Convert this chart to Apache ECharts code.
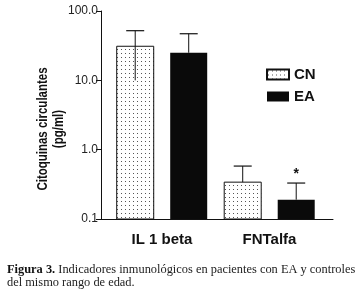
<!DOCTYPE html>
<html>
<head>
<meta charset="utf-8">
<script src="https://cdn.jsdelivr.net/npm/echarts@6.0.0/dist/echarts.min.js"></script>
<style>
html, body { margin: 0; padding: 0; background: #fff; }
#main { width: 361px; height: 296px; }
</style>
</head>
<body>
<div id="main"></div>
<script>
// datos
var categories = ['IL 1 beta', 'FNTalfa'];
var catPos = [1, 2];
var cnMean = [31, 0.34];
var cnHigh = [52, 0.58];
var cnLow = [10, 0.34];
var eaMean = [25, 0.19];
var eaHigh = [47, 0.33];
var eaLow = [25, 0.19];
var eaSig = ['', '*'];
var yMin = 0.1, yMax = 100;

var sans = "'Liberation Sans', Arial, sans-serif";
var barW = 37;
var barGap = 16.5;
var half = (barW + barGap) / 2; // distancia del centro del grupo al centro de cada barra

// patron punteado para CN
var pat = document.createElement('canvas');
pat.width = 4;
pat.height = 4;
var pctx = pat.getContext('2d');
pctx.fillStyle = '#fff';
pctx.fillRect(0, 0, 4, 4);
pctx.fillStyle = '#555';
pctx.fillRect(1, 1, 1, 1);
var cnFill = { image: pat, repeat: 'repeat' };

var myChart = echarts.init(document.getElementById('main'));

// barras desde el minimo del eje log
function barRender(side, fill, stroke) {
    return function(params, api) {
        var p0 = api.coord([api.value(0), yMin]);
        var p1 = api.coord([api.value(0), api.value(1)]);
        var x = p0[0] + side * half - barW / 2;
        return {
            type: 'rect',
            shape: { x: x, y: p1[1], width: barW, height: p0[1] - p1[1] },
            style: { fill: fill, stroke: stroke, lineWidth: stroke ? 1 : 0 }
        };
    };
}

// barras de error (y el asterisco)
function errRender(side, low, high, sig) {
    return function(params, api) {
        var i = params.dataIndex;
        var top = api.coord([catPos[i], high[i]]);
        var bot = api.coord([catPos[i], low[i]]);
        var x = top[0] + side * half;
        var cap = 9;
        var kids = [
            { type: 'line', shape: { x1: x, y1: top[1], x2: x, y2: bot[1] }, style: { stroke: '#111', lineWidth: 1 } },
            { type: 'line', shape: { x1: x - cap, y1: top[1], x2: x + cap, y2: top[1] }, style: { stroke: '#111', lineWidth: 1.2 } }
        ];
        if (sig && sig[i]) {
            kids.push({
                type: 'text',
                style: { x: x, y: top[1] - 2, text: sig[i], fill: '#111', font: 'bold 14px ' + sans, align: 'center', verticalAlign: 'bottom' }
            });
        }
        return { type: 'group', children: kids };
    };
}

myChart.setOption({
    animation: false,
    grid: { left: 101, right: 28, top: 11, bottom: 77 },
    legend: {
        data: ['CN', 'EA'],
        icon: 'rect',
        orient: 'vertical',
        left: 266,
        top: 67,
        padding: 0,
        itemWidth: 22,
        itemHeight: 10,
        itemGap: 7,
        textStyle: { fontFamily: sans, fontWeight: 'bold', fontSize: 15, lineHeight: 14, color: '#111' }
    },
    xAxis: {
        type: 'value',
        min: 0.433,
        max: 2.591,
        splitLine: { show: false },
        axisTick: { show: false },
        axisLine: { show: true, lineStyle: { color: '#111', width: 1 } },
        axisLabel: {
            customValues: catPos,
            formatter: function(v) { return categories[catPos.indexOf(v)]; },
            fontFamily: sans,
            fontWeight: 'bold',
            fontSize: 15,
            color: '#111',
            margin: 13
        }
    },
    yAxis: {
        type: 'log',
        logBase: 10,
        min: yMin,
        max: yMax,
        splitLine: { show: false },
        axisLine: { show: true, lineStyle: { color: '#111', width: 1 } },
        axisTick: { show: true, length: 5, lineStyle: { color: '#111' } },
        axisLabel: {
            formatter: function(v) { return Number(v).toFixed(1); },
            fontFamily: sans,
            fontSize: 12,
            color: '#222',
            margin: 3
        }
    },
    series: [
        {
            name: 'CN',
            type: 'custom',
            renderItem: barRender(-1, cnFill, '#111'),
            itemStyle: { color: cnFill, borderColor: '#111', borderWidth: 1 },
            data: cnMean.map(function(v, i) { return [catPos[i], v]; })
        },
        {
            name: 'EA',
            type: 'custom',
            renderItem: barRender(1, '#0a0a0a', null),
            itemStyle: { color: '#0a0a0a' },
            data: eaMean.map(function(v, i) { return [catPos[i], v]; })
        },
        {
            type: 'custom',
            renderItem: errRender(-1, cnLow, cnHigh, null),
            data: catPos,
            z: 5
        },
        {
            type: 'custom',
            renderItem: errRender(1, eaLow, eaHigh, eaSig),
            data: catPos,
            z: 5
        }
    ],
    graphic: [
        {
            type: 'text',
            x: 51,
            y: 129,
            rotation: Math.PI / 2,
            scaleX: 0.82,
            style: {
                text: 'Citoquinas circulantes\n(pg/ml)',
                font: 'bold 14px ' + sans,
                fill: '#111',
                align: 'center',
                verticalAlign: 'middle',
                lineHeight: 16
            }
        },
        {
            type: 'text',
            x: 7,
            y: 263,
            style: {
                text: '{b|Figura 3.} Indicadores inmunológicos en pacientes con EA y controles\ndel mismo rango de edad.',
                font: '12.4px "Liberation Serif", "Times New Roman", serif',
                fill: '#222',
                lineHeight: 13,
                rich: {
                    b: { fontWeight: 'bold', fontFamily: '"Liberation Serif", serif', fontSize: 12.4, fill: '#111', lineHeight: 13 }
                }
            }
        }
    ]
});
</script>
</body>
</html>
